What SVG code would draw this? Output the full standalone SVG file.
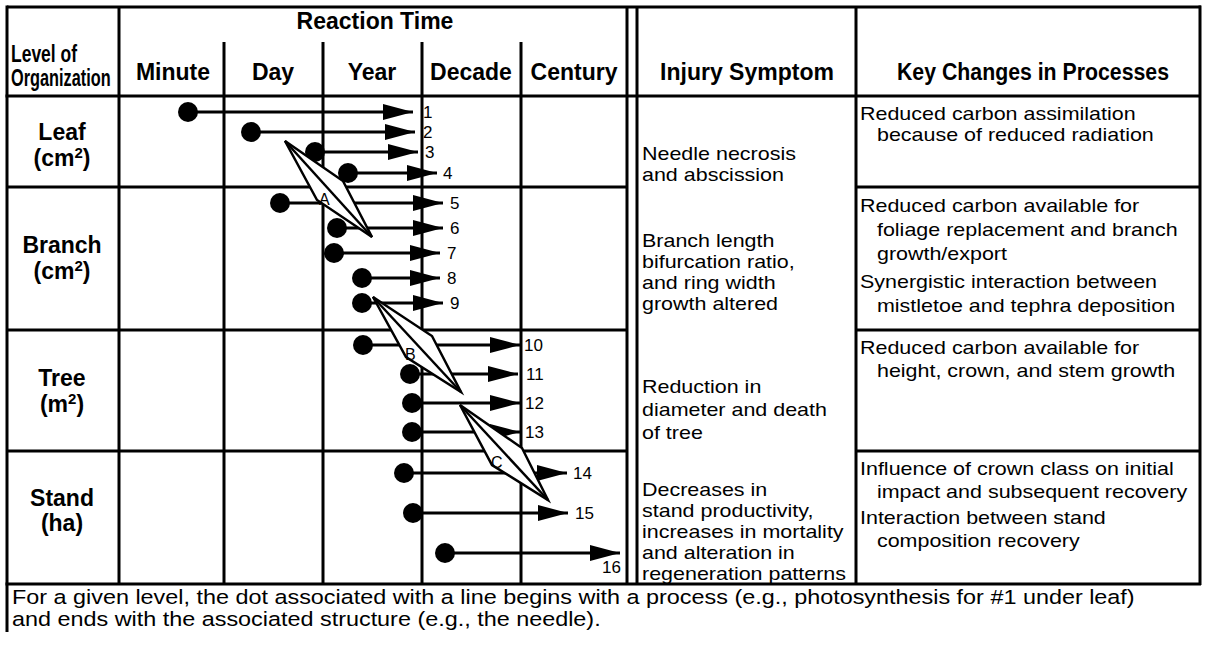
<svg xmlns="http://www.w3.org/2000/svg" width="1207" height="645" viewBox="0 0 1207 645">
  <style>
    .grid { stroke: #000; stroke-width: 3; fill: none; }
    .hd { font-family: "Liberation Sans", Arial, sans-serif; font-weight: bold; font-size: 23px; fill: #000; }
    .lvl { font-family: "Liberation Sans", Arial, sans-serif; font-weight: bold; font-size: 23px; fill: #000; text-anchor: middle; }
    .txt { font-family: "Liberation Sans", Arial, sans-serif; font-size: 19px; fill: #000; }
    .num { font-family: "Liberation Sans", Arial, sans-serif; font-size: 17px; fill: #000; }
    .foot { font-family: "Liberation Sans", Arial, sans-serif; font-size: 19.5px; fill: #000; }
    .shaft { stroke: #000; stroke-width: 3; marker-end: url(#head); }
    .dot { fill: #000; }
    .dia { fill: #fff; stroke: #000; stroke-width: 2.5; stroke-linejoin: miter; }
    .axis { stroke: #000; stroke-width: 2.5; }
    .dlbl { font-family: "Liberation Sans", Arial, sans-serif; font-size: 16px; fill: #000; }
  </style>
  <defs>
    <marker id="head" markerUnits="userSpaceOnUse" markerWidth="31" markerHeight="18" refX="30" refY="8" orient="auto">
      <path d="M0,0 L30,8 L0,16 z" fill="#000"/>
    </marker>
  </defs>

  <rect width="1207" height="645" fill="#fff"/>

  <!-- table frame and rules -->
  <g id="grid" class="grid">
    <line x1="7" y1="7" x2="1201" y2="7"/>
    <line x1="7" y1="5.5" x2="7" y2="632"/>
    <line x1="1200" y1="5.5" x2="1200" y2="585"/>
    <line x1="5.5" y1="96" x2="1201" y2="96"/>
    <line x1="5.5" y1="584" x2="1201" y2="584"/>
    <!-- vertical column rules -->
    <line x1="119" y1="7" x2="119" y2="584"/>
    <line x1="224" y1="42" x2="224" y2="584"/>
    <line x1="323" y1="42" x2="323" y2="584"/>
    <line x1="422" y1="42" x2="422" y2="584"/>
    <line x1="521" y1="42" x2="521" y2="584"/>
    <line x1="627" y1="7" x2="627" y2="584"/>
    <line x1="637" y1="7" x2="637" y2="584"/>
    <line x1="856" y1="7" x2="856" y2="584"/>
    <!-- row rules, left block -->
    <line x1="7" y1="187" x2="627" y2="187"/>
    <line x1="7" y1="330" x2="627" y2="330"/>
    <line x1="7" y1="451" x2="627" y2="451"/>
    <!-- row rules, key changes block -->
    <line x1="856" y1="187" x2="1200" y2="187"/>
    <line x1="856" y1="330" x2="1200" y2="330"/>
    <line x1="856" y1="451" x2="1200" y2="451"/>
  </g>

  <!-- header -->
  <g id="header">
    <text class="hd" x="375" y="29" text-anchor="middle" font-size="20">Reaction Time</text>
    <!-- condensed caption for the first column -->
    <text class="hd" font-size="22" transform="translate(11,62) scale(0.76,1)">Level of</text>
    <text class="hd" font-size="22" transform="translate(11,86) scale(0.71,1)">Organization</text>
    <text class="hd" x="173" y="80" text-anchor="middle">Minute</text>
    <text class="hd" x="273" y="80" text-anchor="middle">Day</text>
    <text class="hd" x="372" y="80" text-anchor="middle">Year</text>
    <text class="hd" x="471" y="80" text-anchor="middle">Decade</text>
    <text class="hd" x="574" y="80" text-anchor="middle">Century</text>
    <text class="hd" x="747" y="80" text-anchor="middle">Injury Symptom</text>
    <text class="hd" x="897" y="80" textLength="272" lengthAdjust="spacingAndGlyphs">Key Changes in Processes</text>
  </g>

  <!-- level of organization -->
  <g id="level-leaf">
    <text class="lvl" x="62" y="140">Leaf</text>
    <text class="lvl" x="62" y="166">(cm<tspan font-size="15" dy="-8">2</tspan><tspan dy="8">)</tspan></text>
  </g>
  <g id="level-branch">
    <text class="lvl" x="62" y="253">Branch</text>
    <text class="lvl" x="62" y="279">(cm<tspan font-size="15" dy="-8">2</tspan><tspan dy="8">)</tspan></text>
  </g>
  <g id="level-tree">
    <text class="lvl" x="62" y="386">Tree</text>
    <text class="lvl" x="62" y="412">(m<tspan font-size="15" dy="-8">2</tspan><tspan dy="8">)</tspan></text>
  </g>
  <g id="level-stand">
    <text class="lvl" x="62" y="506">Stand</text>
    <text class="lvl" x="62" y="531">(ha)</text>
  </g>

  <!-- process lines: dot = process, arrow = structure -->
  <g id="connectors">
    <line class="shaft" x1="188" y1="112" x2="413" y2="112"/>
    <line class="shaft" x1="251" y1="132" x2="415" y2="132"/>
    <line class="shaft" x1="315" y1="152" x2="418" y2="152"/>
    <line class="shaft" x1="348" y1="173" x2="437" y2="173"/>
    <line class="shaft" x1="280" y1="203" x2="443" y2="203"/>
    <line class="shaft" x1="337" y1="228" x2="443" y2="228"/>
    <line class="shaft" x1="334" y1="253" x2="440" y2="253"/>
    <line class="shaft" x1="362" y1="278" x2="440" y2="278"/>
    <line class="shaft" x1="362" y1="303" x2="443" y2="303"/>
    <line class="shaft" x1="363" y1="345" x2="520" y2="345"/>
    <line class="shaft" x1="410" y1="374" x2="518" y2="374"/>
    <line class="shaft" x1="412" y1="403" x2="520" y2="403"/>
    <line class="shaft" x1="412" y1="432" x2="520" y2="432"/>
    <line class="shaft" x1="404" y1="473" x2="567" y2="473"/>
    <line class="shaft" x1="413" y1="513" x2="568" y2="513"/>
    <line class="shaft" x1="445" y1="553" x2="620" y2="553"/>
  </g>
  <g id="dots">
    <circle class="dot" cx="188" cy="112" r="10"/>
    <circle class="dot" cx="251" cy="132" r="10"/>
    <circle class="dot" cx="315" cy="152" r="10"/>
    <circle class="dot" cx="348" cy="173" r="10"/>
    <circle class="dot" cx="280" cy="203" r="10"/>
    <circle class="dot" cx="337" cy="228" r="10"/>
    <circle class="dot" cx="334" cy="253" r="10"/>
    <circle class="dot" cx="362" cy="278" r="10"/>
    <circle class="dot" cx="362" cy="303" r="10"/>
    <circle class="dot" cx="363" cy="345" r="10"/>
    <circle class="dot" cx="410" cy="374" r="10"/>
    <circle class="dot" cx="412" cy="403" r="10"/>
    <circle class="dot" cx="412" cy="432" r="10"/>
    <circle class="dot" cx="404" cy="473" r="10"/>
    <circle class="dot" cx="413" cy="513" r="10"/>
    <circle class="dot" cx="445" cy="553" r="10"/>
  </g>
  <g id="line-numbers">
    <text class="num" x="423" y="118">1</text>
    <text class="num" x="423" y="138">2</text>
    <text class="num" x="425" y="158">3</text>
    <text class="num" x="443" y="179">4</text>
    <text class="num" x="450" y="209">5</text>
    <text class="num" x="450" y="234">6</text>
    <text class="num" x="447" y="259">7</text>
    <text class="num" x="447" y="284">8</text>
    <text class="num" x="450" y="309">9</text>
    <text class="num" x="524" y="351">10</text>
    <text class="num" x="526" y="380">11</text>
    <text class="num" x="525" y="409">12</text>
    <text class="num" x="525" y="438">13</text>
    <text class="num" x="573" y="479">14</text>
    <text class="num" x="575" y="519">15</text>
    <text class="num" x="602" y="573">16</text>
  </g>

  <!-- transition markers between levels -->
  <g id="marker-a">
    <polygon class="dia" points="285,141 343,181 372,237 317,200"/>
    <line class="axis" x1="285" y1="141" x2="372" y2="237"/>
    <text class="dlbl" x="319" y="205">A</text>
  </g>
  <g id="marker-b">
    <polygon class="dia" points="373,297 432,336 461,392 406,357"/>
    <line class="axis" x1="373" y1="297" x2="461" y2="392"/>
    <text class="dlbl" x="405" y="360">B</text>
  </g>
  <g id="marker-c">
    <polygon class="dia" points="460,405 522,448 548,500 492,465"/>
    <line class="axis" x1="460" y1="405" x2="548" y2="500"/>
    <text class="dlbl" x="491" y="468">C</text>
  </g>

  <!-- injury symptoms (wide-set body text) -->
  <g id="symptoms" class="txt" transform="translate(642,0) scale(1.13,1)">
    <text x="0" y="160">Needle necrosis</text>
    <text x="0" y="181">and abscission</text>
    <text x="0" y="247">Branch length</text>
    <text x="0" y="268">bifurcation ratio,</text>
    <text x="0" y="289">and ring width</text>
    <text x="0" y="310">growth altered</text>
    <text x="0" y="393">Reduction in</text>
    <text x="0" y="416">diameter and death</text>
    <text x="0" y="439">of tree</text>
    <text x="0" y="496">Decreases in</text>
    <text x="0" y="517">stand productivity,</text>
    <text x="0" y="538">increases in mortality</text>
    <text x="0" y="559">and alteration in</text>
    <text x="0" y="580">regeneration patterns</text>
  </g>

  <!-- key changes in processes -->
  <g id="key-changes" class="txt" transform="translate(860,0) scale(1.13,1)">
    <text x="0" y="120">Reduced carbon assimilation</text>
    <text x="15" y="141">because of reduced radiation</text>
    <text x="0" y="212">Reduced carbon available for</text>
    <text x="15" y="236">foliage replacement and branch</text>
    <text x="15" y="260">growth/export</text>
    <text x="0" y="288">Synergistic interaction between</text>
    <text x="15" y="312">mistletoe and tephra deposition</text>
    <text x="0" y="354">Reduced carbon available for</text>
    <text x="15" y="377">height, crown, and stem growth</text>
    <text x="0" y="475">Influence of crown class on initial</text>
    <text x="15" y="498">impact and subsequent recovery</text>
    <text x="0" y="524">Interaction between stand</text>
    <text x="15" y="547">composition recovery</text>
  </g>

  <!-- footnote -->
  <g id="footnote" class="foot" transform="translate(12,0) scale(1.2,1)">
    <text x="0" y="604">For a given level, the dot associated with a line begins with a process (e.g., photosynthesis for #1 under leaf)</text>
    <text x="0" y="626">and ends with the associated structure (e.g., the needle).</text>
  </g>
</svg>
